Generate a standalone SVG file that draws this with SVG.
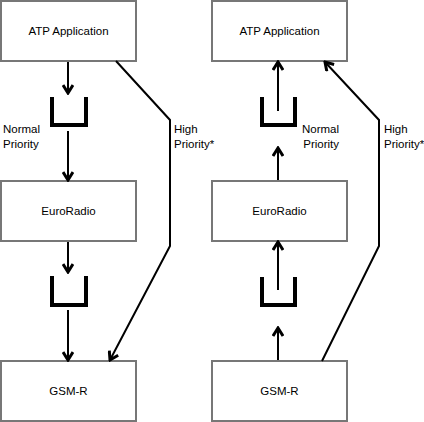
<svg xmlns="http://www.w3.org/2000/svg" width="424" height="422" viewBox="0 0 424 422">
<defs>
<style>
.box{fill:#fff;stroke:#777;stroke-width:2}
.lbl{font-family:"Liberation Sans",Arial,sans-serif;font-size:11.5px;fill:#000}
.c{text-anchor:middle}
.e{text-anchor:end}
.ln{fill:none;stroke:#000;stroke-width:2}
.bk{fill:none;stroke:#000;stroke-width:4;stroke-linejoin:miter;stroke-linecap:butt}
</style>
<marker id="ah" viewBox="0 0 12 12" refX="10" refY="6" markerWidth="12" markerHeight="12" markerUnits="userSpaceOnUse" orient="auto">
<path d="M2,1 L10,6 L2,11" fill="none" stroke="#000" stroke-width="3"/>
</marker>
</defs>
<rect width="424" height="422" fill="#fff"/>
<g id="left-atp"><rect class="box" x="1" y="1" width="135" height="60"/><text class="lbl c" x="68.5" y="35">ATP Application</text></g>
<g id="left-euroradio"><rect class="box" x="1" y="181" width="135" height="60"/><text class="lbl c" x="68.5" y="215">EuroRadio</text></g>
<g id="left-gsmr"><rect class="box" x="1" y="361" width="135" height="60"/><text class="lbl c" x="68.5" y="395">GSM-R</text></g>
<g id="right-atp"><rect class="box" x="212" y="1" width="135" height="60"/><text class="lbl c" x="279.5" y="35">ATP Application</text></g>
<g id="right-euroradio"><rect class="box" x="212" y="181" width="135" height="60"/><text class="lbl c" x="279.5" y="215">EuroRadio</text></g>
<g id="right-gsmr"><rect class="box" x="212" y="361" width="135" height="60"/><text class="lbl c" x="279.5" y="395">GSM-R</text></g>
<g id="queues">
<path class="bk" d="M52,97 V125 H86 V97"/>
<path class="bk" d="M52,276 V305 H86 V276"/>
<path class="bk" d="M262,97 V125 H295 V97"/>
<path class="bk" d="M262,277 V305 H295 V277"/>
</g>
<g id="connectors">
<line class="ln" x1="68" y1="62" x2="68" y2="93" marker-end="url(#ah)"/>
<line class="ln" x1="68" y1="131" x2="68" y2="180" marker-end="url(#ah)"/>
<line class="ln" x1="68" y1="242" x2="68" y2="272" marker-end="url(#ah)"/>
<line class="ln" x1="68" y1="310" x2="68" y2="360" marker-end="url(#ah)"/>
<polyline class="ln" points="116,61 170,120 170,246 110,360" marker-end="url(#ah)"/>
<line class="ln" x1="278" y1="111" x2="278" y2="62" marker-end="url(#ah)"/>
<line class="ln" x1="278" y1="180" x2="278" y2="148" marker-end="url(#ah)"/>
<line class="ln" x1="278" y1="290" x2="278" y2="242" marker-end="url(#ah)"/>
<line class="ln" x1="278" y1="360" x2="278" y2="328" marker-end="url(#ah)"/>
<polyline class="ln" points="322,361 379,246 379,120 325,62" marker-end="url(#ah)"/>
</g>
<g id="labels">
<text class="lbl" x="3" y="133">Normal</text>
<text class="lbl" x="3" y="148">Priority</text>
<text class="lbl" x="174" y="133">High</text>
<text class="lbl" x="174" y="148">Priority*</text>
<text class="lbl e" x="339" y="133">Normal</text>
<text class="lbl e" x="339" y="148">Priority</text>
<text class="lbl" x="384" y="133">High</text>
<text class="lbl" x="384" y="148">Priority*</text>
</g>
</svg>
